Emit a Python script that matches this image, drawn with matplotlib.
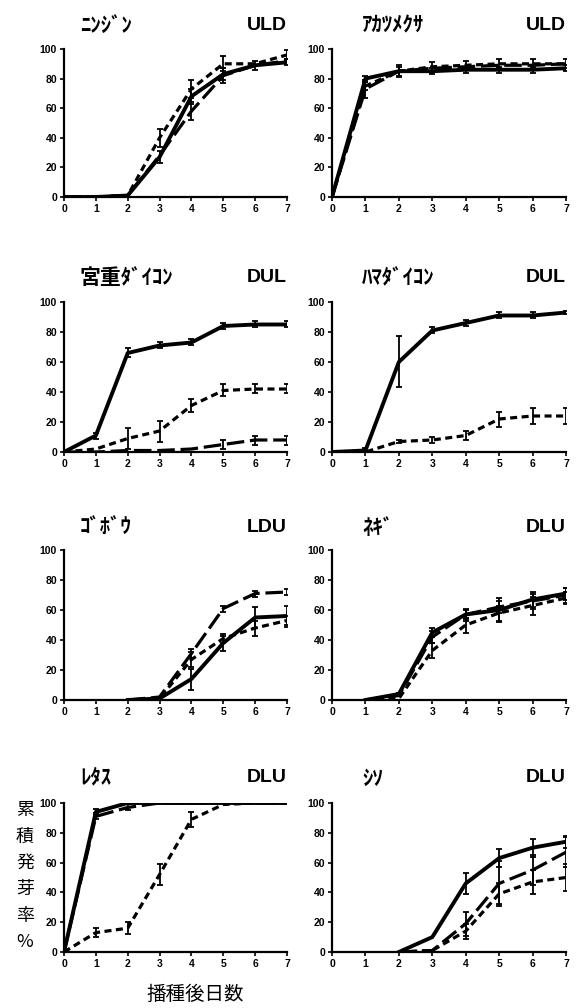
import numpy as np
import matplotlib
matplotlib.use("Agg")
import matplotlib.pyplot as plt

plt.rcParams['font.family'] = ['Liberation Sans', 'DejaVu Sans']

nan = np.nan
days = [0, 1, 2, 3, 4, 5, 6, 7]

# each panel: rows = solid, short dash, long dash
names = ['ﾆﾝｼﾞﾝ', 'ｱｶﾂﾒｸｻ', '宮重ﾀﾞｲｺﾝ', 'ﾊﾏﾀﾞｲｺﾝ', 'ｺﾞﾎﾞｳ', 'ﾈｷﾞ', 'ﾚﾀｽ', 'ｼｿ']
codes = ['ULD', 'ULD', 'DUL', 'DUL', 'LDU', 'DLU', 'DLU', 'DLU']

carrot_mean = [[0, 0, 1, 27, 68, 83, 89, 91],
               [0, 0, 1, 40, 73, 90, 90, 96],
               [0, 0, 1, 28, 58, 82, 89, 92]]
carrot_err = [[nan, nan, nan, 4, 5, 4, 3, 2],
              [nan, 1, nan, 6, 6, 5, nan, 3],
              [nan, nan, nan, nan, 6, 5, nan, nan]]

clover_mean = [[0, 80, 85, 85, 86, 86, 86, 87],
               [0, 75, 85, 88, 89, 90, 90, 90],
               [0, 73, 85, 87, 88, 89, 89, 90]]
clover_err = [[nan, 2, 3, 2, 2, 2, 2, 2],
              [nan, 3, 4, 3, 3, 3, 3, 3],
              [nan, 6, nan, nan, nan, nan, nan, nan]]

miyashige_mean = [[0, 11, 66, 71, 73, 84, 85, 85],
                  [0, 2, 9, 14, 31, 41, 42, 42],
                  [0, 0, 1, 1, 2, 5, 8, 8]]
miyashige_err = [[nan, 2, 3, 2, 2, 2, 2, 2],
                 [nan, nan, 7, 7, 4, 4, 3, 3],
                 [nan, nan, nan, nan, nan, 3, 3, 3]]

hama_mean = [[0, 1, 60, 81, 86, 91, 91, 93],
             [0, 0, 7, 8, 11, 22, 24, 24]]
hama_err = [[nan, 2, 17, 2, 2, 2, 2, 1],
            [nan, nan, 1, 2, 3, 5, 5, 5]]

burdock_mean = [[nan, nan, 0, 1, 14, 38, 55, 56],
                [nan, nan, 0, 1, 27, 41, 48, 53],
                [nan, nan, 0, 2, 31, 61, 71, 72]]
burdock_err = [[nan, nan, nan, nan, 7, 5, 7, 7],
               [nan, nan, nan, nan, 5, 3, 5, 3],
               [nan, nan, nan, nan, 3, 2, 2, 2]]

leek_mean = [[nan, 0, 4, 45, 57, 60, 67, 71],
             [nan, 0, 1, 33, 50, 58, 63, 68],
             [nan, 0, 3, 42, 57, 62, 66, 70]]
leek_err = [[nan, nan, 1, 3, 4, 8, 5, 4],
            [nan, nan, nan, 5, 5, 5, 6, 4],
            [nan, nan, nan, 4, 3, 4, 5, 5]]

lettuce_mean = [[0, 94, 100, 100, 100, 100, 100, 100],
                [0, 13, 16, 52, 89, 99, 100, 100],
                [0, 91, 97, 100, 100, 100, 100, 100]]
lettuce_err = [[nan, 2, 1, nan, nan, nan, nan, nan],
               [nan, 3, 4, 7, 5, nan, nan, nan],
               [nan, 2, 2, nan, nan, nan, nan, nan]]

perilla_mean = [[nan, nan, 0, 10, 46, 63, 70, 74],
                [nan, nan, 0, 1, 14, 39, 47, 50],
                [nan, nan, 0, 1, 19, 46, 55, 67]]
perilla_err = [[nan, nan, nan, nan, 7, 6, 6, 4],
               [nan, nan, nan, nan, 5, 7, 8, 9],
               [nan, nan, nan, nan, 8, 15, 10, 10]]

means = [carrot_mean, clover_mean, miyashige_mean, hama_mean,
         burdock_mean, leek_mean, lettuce_mean, perilla_mean]
errs = [carrot_err, clover_err, miyashige_err, hama_err,
        burdock_err, leek_err, lettuce_err, perilla_err]

styles = ['-', (0, (2.2, 1.4)), (0, (5.5, 1.8))]
widths = [2.8, 2.3, 2.3]

W, H = 581, 1008
fig = plt.figure(figsize=(W / 100, H / 100), dpi=100)

col_x = [(64, 287), (332, 566)]
row_y = [(49, 197), (302, 452), (550, 700), (803, 952)]
title_dx = [80, 362]
title_y = [25, 278, 527, 778]

jp = ['Noto Sans CJK JP', 'DejaVu Sans']
narrow = ['Liberation Sans Narrow', 'Liberation Sans']

for i in range(8):
    r, c = divmod(i, 2)
    x0, x1 = col_x[c]
    y0, y1 = row_y[r]
    ax = fig.add_axes([x0 / W, 1 - y1 / H, (x1 - x0) / W, (y1 - y0) / H])
    for k in range(len(means[i])):
        ax.errorbar(days, means[i][k], yerr=errs[i][k], color='black',
                    linestyle=styles[k], linewidth=widths[k],
                    elinewidth=1.3, capsize=2.2, capthick=1.3)
    ax.set_xlim(0, 7)
    ax.set_ylim(0, 100)
    ax.set_xticks(range(8))
    ax.set_yticks(range(0, 101, 20))
    for s in ['top', 'right']:
        ax.spines[s].set_visible(False)
    for s in ['left', 'bottom']:
        ax.spines[s].set_linewidth(1.6)
    ax.tick_params(length=3, width=1.2, labelsize=7.5, pad=2)
    for lab in ax.get_xticklabels() + ax.get_yticklabels():
        lab.set_fontweight('bold')
    ax.patch.set_alpha(0)

    fig.text(title_dx[c] / W, 1 - title_y[r] / H, names[i], family=jp,
             fontsize=15, fontweight='bold', ha='left', va='center')
    fig.text(x1 / W, 1 - title_y[r] / H, codes[i], family=narrow,
             fontsize=14, fontweight='bold', ha='right', va='center')

fig.text(25 / W, 1 - 876 / H, '\n'.join('累積発芽率%'), family=jp,
         fontsize=13, ha='center', va='center', linespacing=1.6)
fig.text(195 / W, 1 - 994 / H, '播種後日数', family=jp,
         fontsize=14, ha='center', va='center')

fig.savefig('out.png', dpi=100)
